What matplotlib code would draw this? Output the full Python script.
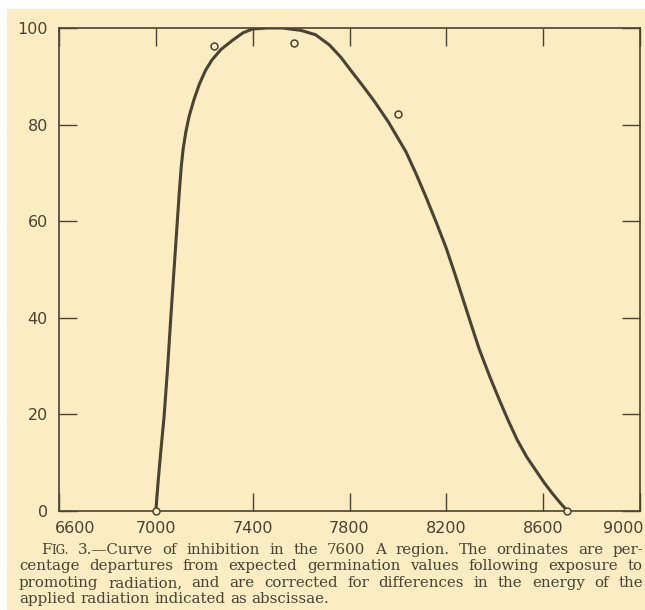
import matplotlib
matplotlib.use("Agg")
import matplotlib.pyplot as plt
from matplotlib.patches import Rectangle
from matplotlib.transforms import IdentityTransform, ScaledTranslation

# curve of inhibition (wavelength A, % inhibition)
curve_x = [7000, 7010, 7021, 7034, 7049, 7062, 7076, 7090, 7097, 7105, 7113,
           7124, 7137, 7157, 7180, 7205, 7232, 7270, 7318, 7360, 7400, 7460,
           7524, 7600, 7660, 7717, 7765, 7812, 7860, 7903, 7960, 8034, 8075,
           8116, 8158, 8199, 8234, 8268, 8302, 8336, 8378, 8419, 8456, 8493,
           8532, 8571, 8605, 8637, 8670, 8700]
curve_y = [0, 6.4, 12.6, 19.5, 29.9, 40.2, 50.6, 60.9, 66.1, 71.3, 75.0,
           78.5, 81.6, 85.1, 88.4, 91.2, 93.4, 95.6, 97.5, 99.0, 99.8, 100,
           100, 99.5, 98.6, 96.5, 93.9, 90.8, 87.7, 84.8, 80.6, 74.3, 69.8,
           65.0, 59.8, 54.5, 49.3, 44.0, 38.7, 33.5, 28.0, 23.0, 18.7, 14.7,
           11.2, 8.3, 5.8, 3.7, 1.7, 0]

# measured points (open circles)
points_x = [7000, 7240, 7570, 8000, 8700]
points_y = [0, 96.3, 96.9, 82.2, 0]

xticks = [6600, 7000, 7400, 7800, 8200, 8600, 9000]
xtick_labels = ['6600', '7000', '7400', '7800', '8200', '8600', '9000']
yticks = [0, 20, 40, 60, 80, 100]
ytick_labels = ['0', '20', '40', '60', '80', '100']

caption_lines = [
    "FIG. 3.—Curve of inhibition in the 7600 A region. The ordinates are per-",
    "centage departures from expected germination values following exposure to",
    "promoting radiation, and are corrected for differences in the energy of the",
    "applied radiation indicated as abscissae.",
]

paper = '#fcecc2'
ink = '#4a4232'

W, H = 645, 610
fig = plt.figure(figsize=(W / 100, H / 100), dpi=100, facecolor='white')
fig.patches.append(Rectangle((7 / W, 0), 1, 1 - 9 / H, transform=fig.transFigure,
                             facecolor=paper, edgecolor='none', zorder=-10))

ax = fig.add_axes([59 / W, 1 - 511 / H, (640 - 59) / W, (511 - 28) / H])
ax.set_facecolor('none')

ax.plot(curve_x, curve_y, color=ink, lw=2.2, solid_capstyle='round',
        solid_joinstyle='round', zorder=2)
ax.plot(points_x, points_y, 'o', mfc=paper, mec=ink, ms=5, mew=1.1,
        clip_on=False, zorder=3)

ax.set_xlim(6600, 9000)
ax.set_ylim(0, 100)
ax.set_xticks(xticks)
ax.set_xticklabels(xtick_labels)
ax.set_yticks(yticks)
ax.set_yticklabels(ytick_labels)

for s in ax.spines.values():
    s.set_color(ink)
    s.set_linewidth(1.2)

ax.tick_params(direction='in', length=13, width=1, color=ink, top=True, right=True,
               labelsize=11.5, labelcolor=ink)
ax.tick_params(axis='x', pad=7)
ax.tick_params(axis='y', pad=8)
for t in ax.get_xticklabels() + ax.get_yticklabels():
    t.set_family('DejaVu Sans')
labs = ax.get_xticklabels()
labs[0].set_ha('left')
labs[0].set_transform(labs[0].get_transform() + ScaledTranslation(-4 / 100, 0, fig.dpi_scale_trans))
labs[-1].set_ha('right')
labs[-1].set_transform(labs[-1].get_transform() + ScaledTranslation(4 / 100, 0, fig.dpi_scale_trans))

# caption, justified like the printed page
fig.canvas.draw()
renderer = fig.canvas.get_renderer()
cap_size = 10.8
cap_font = 'DejaVu Serif'


def make_word(word):
    # returns list of text objects and total width in pixels
    if word == 'FIG.':
        parts = [('F', cap_size), ('IG.', cap_size * 0.78)]
    else:
        parts = [(word, cap_size)]
    objs = []
    total = 0
    for txt, sz in parts:
        t = fig.text(0, 0, txt, size=sz, family=cap_font, color=ink,
                     transform=IdentityTransform(), va='baseline')
        w = t.get_window_extent(renderer).width
        objs.append((t, total))
        total += w
    return objs, total


probe = fig.text(0, 0, 'x x', size=cap_size, family=cap_font)
probe2 = fig.text(0, 0, 'xx', size=cap_size, family=cap_font)
space_w = probe.get_window_extent(renderer).width - probe2.get_window_extent(renderer).width
probe.remove()
probe2.remove()

left, right = 19, 643
for i, line in enumerate(caption_lines):
    base = H - (554 + i * 16.4)
    start = 41 if i == 0 else left
    words = [make_word(w) for w in line.split()]
    widths = [w for _, w in words]
    if i < len(caption_lines) - 1:
        gap = (right - start - sum(widths)) / (len(words) - 1)
    else:
        gap = space_w
    x = start
    for objs, w in words:
        for t, off in objs:
            t.set_position((x + off, base))
        x += w + gap

fig.savefig('out.png', dpi=100, facecolor='white')
